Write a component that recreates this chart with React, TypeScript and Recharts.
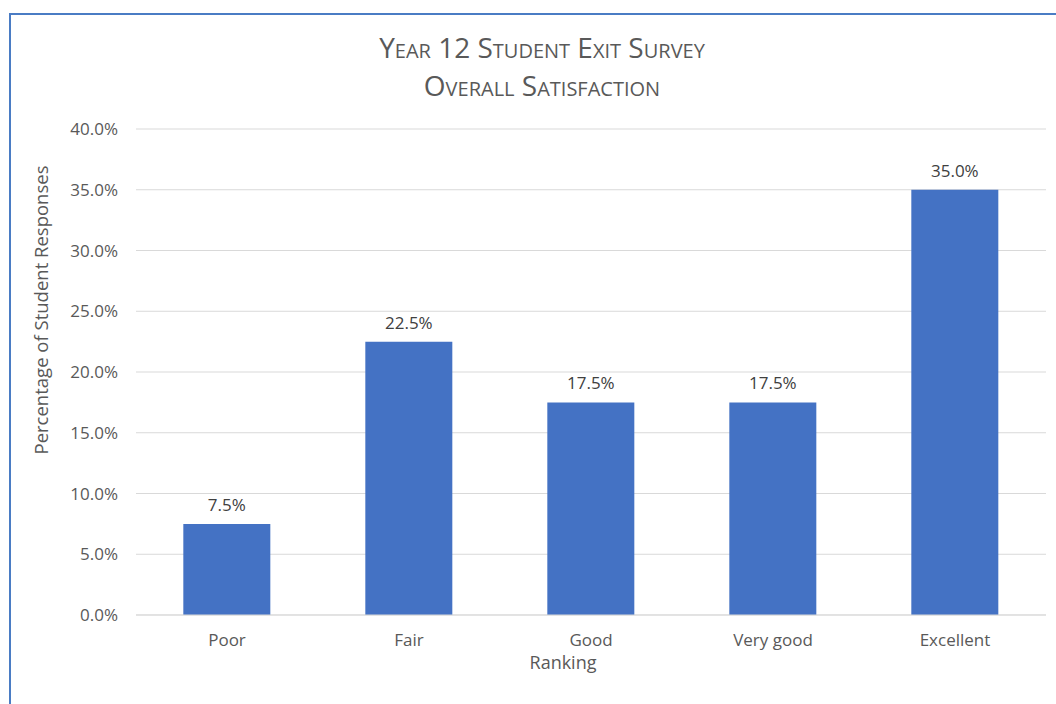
import { BarChart, Bar, XAxis, YAxis, CartesianGrid, LabelList } from 'recharts';

const rankings = ['Poor', 'Fair', 'Good', 'Very good', 'Excellent'];
const percentages = [7.5, 22.5, 17.5, 17.5, 35.0];
const yTicks = [0, 5, 10, 15, 20, 25, 30, 35, 40];

const chartData = rankings.map((name, i) => ({ name, value: percentages[i] }));

const FONT = '"Open Sans", "Liberation Sans", sans-serif';
const TEXT = '#595959';

export default function App() {
    return (
        <div style={{ position: 'fixed', left: 0, top: 0, width: 1056, height: 704, overflow: 'hidden', background: '#fff', fontFamily: FONT }}>
            <div style={{ position: 'absolute', left: 9, top: 13, width: 1070, height: 720, border: '2px solid #4a7cc4', boxSizing: 'border-box' }} />
            <div style={{ position: 'absolute', left: 0, top: 28, width: 1084, textAlign: 'center', color: TEXT, fontSize: 28, fontVariant: 'small-caps', lineHeight: '38px' }}>
                <div>Year 12 Student Exit Survey</div>
                <div>Overall Satisfaction</div>
            </div>
            <div style={{ position: 'absolute', left: 0, top: 0 }}>
                <BarChart width={1056} height={704} data={chartData} margin={{ top: 129, right: 10, bottom: 29, left: 0 }} barCategoryGap="26%">
                    <CartesianGrid vertical={false} stroke="#d9d9d9" />
                    <XAxis
                        dataKey="name"
                        height={60}
                        tickLine={false}
                        axisLine={{ stroke: '#d9d9d9' }}
                        tickMargin={13}
                        tick={{ fill: TEXT, fontSize: 17, fontFamily: FONT }}
                        label={{ value: 'Ranking', position: 'insideBottom', offset: 6, dx: -28, fill: TEXT, fontSize: 18, fontFamily: FONT }}
                    />
                    <YAxis
                        width={136}
                        domain={[0, 40]}
                        ticks={yTicks}
                        tickFormatter={(v: number) => `${v.toFixed(1)}%`}
                        tickLine={false}
                        axisLine={false}
                        tickMargin={12}
                        tick={{ fill: TEXT, fontSize: 17, fontFamily: FONT }}
                        label={{ value: 'Percentage of Student Responses', angle: -90, position: 'insideLeft', offset: 0, dx: 41, dy: -62, fill: TEXT, fontSize: 18.5, fontFamily: FONT, style: { textAnchor: 'middle' } }}
                    />
                    <Bar dataKey="value" fill="#4472c4" isAnimationActive={false}>
                        <LabelList dataKey="value" position="top" offset={13} formatter={(v: number) => `${v.toFixed(1)}%`} style={{ fill: '#404040', fontSize: 17, fontFamily: FONT }} />
                    </Bar>
                </BarChart>
            </div>
        </div>
    );
}
